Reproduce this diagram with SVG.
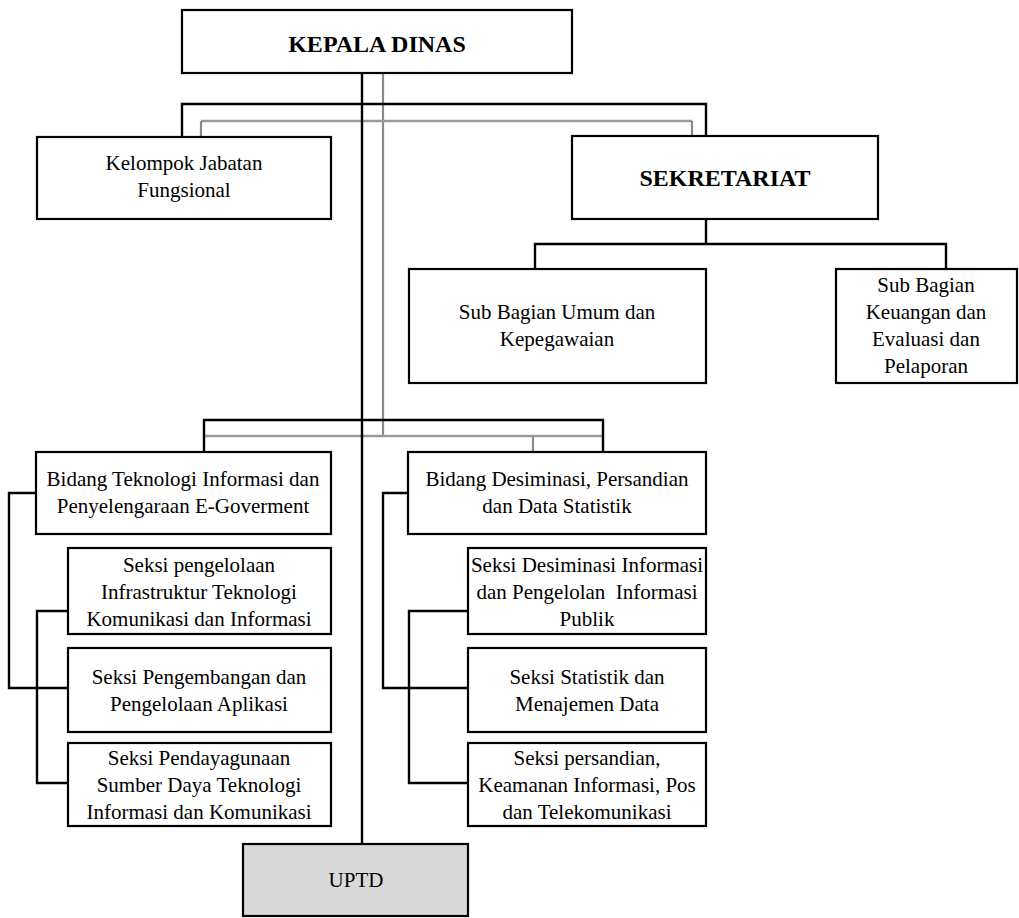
<svg xmlns="http://www.w3.org/2000/svg" width="1019" height="918" viewBox="0 0 1019 918">
  <style>
    .box { fill: #ffffff; stroke: #000000; stroke-width: 2.2; }
    .shaded { fill: #d9d9d9; stroke: #000000; stroke-width: 2.2; }
    .line { fill: none; stroke: #000000; stroke-width: 2.4; }
    .gray { fill: none; stroke: #8a8a8a; stroke-width: 2.2; }
    .grayh { fill: none; stroke: #9a9a9a; stroke-width: 2.4; }
    text { font-family: "Liberation Serif", "Times New Roman", serif; font-size: 21px; fill: #000000; text-anchor: middle; }
    .title { font-size: 24px; font-weight: bold; }
  </style>

  <rect width="1019" height="918" fill="#ffffff"/>

  <!-- connectors -->
  <g id="connectors">
    <!-- gray secondary lines -->
    <path class="gray" d="M383 73 V436"/>
    <path class="grayh" d="M201 121 H692"/>
    <path class="gray" d="M201 121 V137 M692 121 V136"/>
    <path class="grayh" d="M204 436 H603"/>
    <path class="gray" d="M533 436 V452"/>

    <!-- main trunk -->
    <path class="line" d="M362 73 V844"/>
    <!-- upper branch -->
    <path class="line" d="M182 137 V104 H706 V137"/>
    <!-- secretariat branch -->
    <path class="line" d="M706 219 V244 M535 269 V244 H946 V269"/>
    <!-- field branch -->
    <path class="line" d="M204 452 V420 H603 V452"/>

    <!-- left column brackets -->
    <path class="line" d="M36 493 H9 V688 H68"/>
    <path class="line" d="M68 611 H37 V783 H68"/>
    <!-- right column brackets -->
    <path class="line" d="M408 493 H383 V688 H468"/>
    <path class="line" d="M468 611 H409 V783 H468"/>
  </g>

  <g id="kepala-dinas">
    <rect class="box" x="182" y="10" width="390" height="63"/>
    <text class="title" x="377" y="52">KEPALA DINAS</text>
  </g>

  <g id="kelompok-jabatan">
    <rect class="box" x="37" y="137" width="294" height="82"/>
    <text x="184" y="170">Kelompok Jabatan</text>
    <text x="184" y="197">Fungsional</text>
  </g>

  <g id="sekretariat">
    <rect class="box" x="572" y="136" width="306" height="83"/>
    <text class="title" x="725" y="186">SEKRETARIAT</text>
  </g>

  <g id="subbag-umum">
    <rect class="box" x="409" y="269" width="297" height="114"/>
    <text x="557" y="319">Sub Bagian Umum dan</text>
    <text x="557" y="346">Kepegawaian</text>
  </g>

  <g id="subbag-keuangan">
    <rect class="box" x="836" y="269" width="181" height="114"/>
    <text x="926" y="292">Sub Bagian</text>
    <text x="926" y="319">Keuangan dan</text>
    <text x="926" y="346">Evaluasi dan</text>
    <text x="926" y="373">Pelaporan</text>
  </g>

  <g id="bidang-ti">
    <rect class="box" x="36" y="452" width="295" height="82"/>
    <text x="183" y="486">Bidang Teknologi Informasi dan</text>
    <text x="183" y="513">Penyelengaraan E-Goverment</text>
  </g>

  <g id="seksi-infrastruktur">
    <rect class="box" x="68" y="548" width="263" height="86"/>
    <text x="199" y="572">Seksi pengelolaan</text>
    <text x="199" y="599">Infrastruktur Teknologi</text>
    <text x="199" y="626">Komunikasi dan Informasi</text>
  </g>

  <g id="seksi-aplikasi">
    <rect class="box" x="68" y="648" width="263" height="84"/>
    <text x="199" y="684">Seksi Pengembangan dan</text>
    <text x="199" y="711">Pengelolaan Aplikasi</text>
  </g>

  <g id="seksi-sumber-daya">
    <rect class="box" x="68" y="743" width="263" height="83"/>
    <text x="199" y="765">Seksi Pendayagunaan</text>
    <text x="199" y="792">Sumber Daya Teknologi</text>
    <text x="199" y="819">Informasi dan Komunikasi</text>
  </g>

  <g id="bidang-desiminasi">
    <rect class="box" x="408" y="452" width="298" height="82"/>
    <text x="557" y="486">Bidang Desiminasi, Persandian</text>
    <text x="557" y="513">dan Data Statistik</text>
  </g>

  <g id="seksi-desiminasi">
    <rect class="box" x="468" y="548" width="238" height="86"/>
    <text x="587" y="572">Seksi Desiminasi Informasi</text>
    <text x="587" y="599" xml:space="preserve">dan Pengelolan  Informasi</text>
    <text x="587" y="626">Publik</text>
  </g>

  <g id="seksi-statistik">
    <rect class="box" x="468" y="648" width="238" height="84"/>
    <text x="587" y="684">Seksi Statistik dan</text>
    <text x="587" y="711">Menajemen Data</text>
  </g>

  <g id="seksi-persandian">
    <rect class="box" x="468" y="743" width="238" height="83"/>
    <text x="587" y="765">Seksi persandian,</text>
    <text x="587" y="792">Keamanan Informasi, Pos</text>
    <text x="587" y="819">dan Telekomunikasi</text>
  </g>

  <g id="uptd">
    <rect class="shaded" x="243" y="844" width="225" height="72"/>
    <text x="356" y="887">UPTD</text>
  </g>
</svg>
